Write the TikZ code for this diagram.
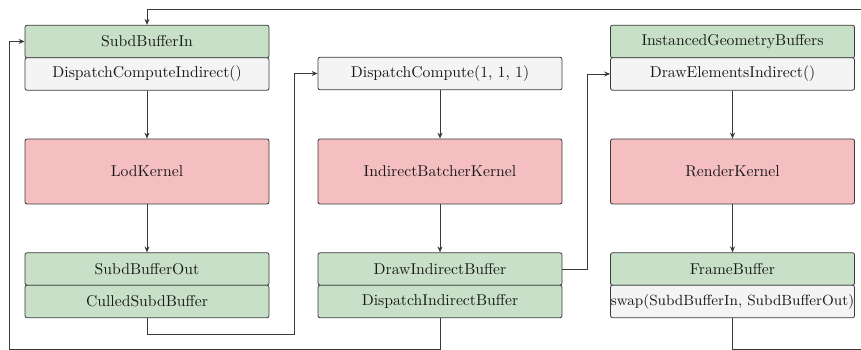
\documentclass[tikz,border=0pt]{standalone}
\usetikzlibrary{arrows.meta}
\definecolor{bufgreen}{HTML}{C8E0C8}
\definecolor{callgray}{HTML}{F4F4F4}
\definecolor{kernred}{HTML}{F5BEC0}
\definecolor{edgegray}{HTML}{3A3A3A}
\begin{document}
\begin{tikzpicture}[
  x=0.637pt, y=-0.637pt,
  box/.style={draw=edgegray, rounded corners=1.3pt, line width=0.5pt,
    minimum width=244*0.637pt, inner sep=0pt, text=black!90},
  bufbox/.style={box, fill=bufgreen, minimum height=32.5*0.637pt},
  callbox/.style={box, fill=callgray, minimum height=32.5*0.637pt},
  kernbox/.style={box, fill=kernred, minimum height=65*0.637pt},
  flow/.style={draw=edgegray, line width=0.6pt, -{Stealth[length=3.8pt,width=3.2pt]}}
]
\useasboundingbox (0,0) rectangle (861,350);

% column 1: LOD pass
\node[bufbox]  (sbin)   at (147,41.5)  {SubdBufferIn};
\node[callbox] (dci)    at (147,74)    {DispatchComputeIndirect()};
\node[kernbox] (lod)    at (147,171.5) {LodKernel};
\node[bufbox]  (sbout)  at (147,269)   {SubdBufferOut};
\node[bufbox]  (culled) at (147,301.5) {CulledSubdBuffer};

% column 2: indirect batching
\node[callbox] (dc)     at (440,73.5)  {DispatchCompute(1, 1, 1)};
\node[kernbox] (batch)  at (440,171.5) {IndirectBatcherKernel};
\node[bufbox]  (dib)    at (440,269)   {DrawIndirectBuffer};
\node[bufbox]  (dspib)  at (440,301.5) {DispatchIndirectBuffer};

% column 3: rendering
\node[bufbox]  (igb)    at (732.5,41.5)  {InstancedGeometryBuffers};
\node[callbox] (dei)    at (732.5,74)    {DrawElementsIndirect()};
\node[kernbox] (render) at (732.5,171.5) {RenderKernel};
\node[bufbox]  (fb)     at (732.5,269)   {FrameBuffer};
\node[callbox, font=\fontsize{9.4}{11}\selectfont]
               (swap)   at (732.5,301.5) {swap(SubdBufferIn, SubdBufferOut)};

% routing points of the feedback wires
\coordinate (cA) at (147,334);
\coordinate (cB) at (294,334);
\coordinate (cC) at (587,269);
\coordinate (cD) at (440,349.9);
\coordinate (cE) at (9,349.9);
\coordinate (cF) at (732.5,349.9);
\coordinate (cG) at (880,349.9);
\coordinate (cH) at (880,9);
\coordinate (cI) at (147,9);

% straight flows down each column
\draw[flow] (dci) -- (lod);
\draw[flow] (lod) -- (sbout);
\draw[flow] (dc) -- (batch);
\draw[flow] (batch) -- (dib);
\draw[flow] (dei) -- (render);
\draw[flow] (render) -- (fb);

% culled buffer drives the batcher dispatch
\draw[flow] (culled.south) -- (cA) -- (cB) |- (dc.west);
% draw buffer drives the indirect draw
\draw[flow] (dib.east) -- (cC) |- (dei.west);
% dispatch buffer feeds back into the LOD pass
\draw[flow] (dspib.south) -- (cD) -- (cE) |- (sbin.west);
% buffer swap closes the loop
\draw[flow] (swap.south) -- (cF) -- (cG) -- (cH) -- (cI) -- (sbin.north);
\end{tikzpicture}
\end{document}
